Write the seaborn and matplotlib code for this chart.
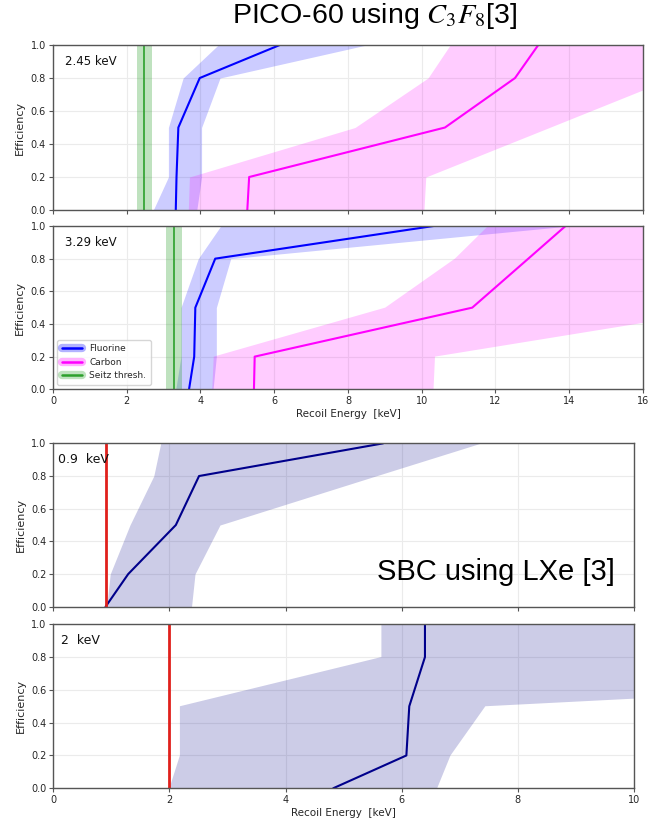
import numpy as np
import seaborn as sns
import matplotlib.pyplot as plt
from matplotlib.lines import Line2D

# efficiency levels shared by all curves
eff = [0.0, 0.2, 0.5, 0.8, 1.0]

# PICO-60, 2.45 keV
f245_mid = [3.33, 3.35, 3.40, 3.98, 6.15]
f245_lo = [2.72, 3.13, 3.13, 3.53, 4.48]
f245_hi = [3.90, 4.03, 4.03, 4.53, 8.50]
c245_mid = [5.27, 5.32, 10.63, 12.53, 13.16]
c245_lo = [3.67, 3.70, 8.19, 10.17, 10.77]
c245_hi = [10.06, 10.11, 13.46, 16.80, 19.00]
seitz245 = 2.47
seitz245_band = [2.29, 2.68]

# PICO-60, 3.29 keV
f329_mid = [3.69, 3.83, 3.86, 4.40, 10.32]
f329_lo = [3.33, 3.47, 3.47, 3.94, 4.55]
f329_hi = [4.34, 4.43, 4.43, 4.82, 14.00]
c329_mid = [5.45, 5.47, 11.37, 12.89, 13.90]
c329_lo = [4.32, 4.36, 9.01, 10.90, 11.80]
c329_hi = [10.32, 10.36, 18.55, 26.75, 32.20]
seitz329 = 3.29
seitz329_band = [3.06, 3.51]

# SBC LXe, 0.9 keV
x09_mid = [0.90, 1.29, 2.11, 2.51, 5.68]
x09_lo = [0.92, 0.98, 1.32, 1.73, 1.85]
x09_hi = [2.38, 2.44, 2.87, 5.55, 7.35]
thr09 = 0.9

# SBC LXe, 2 keV
x2_mid = [4.82, 6.08, 6.13, 6.40, 6.40]
x2_lo = [2.00, 2.18, 2.18, 5.65, 5.65]
x2_hi = [6.61, 6.84, 7.44, 24.0, 37.0]
thr2 = 2.0

eff_ticks = [0, 0.2, 0.4, 0.6, 0.8, 1.0]

sns.set_style("whitegrid", {"grid.color": "#ebebeb", "axes.edgecolor": "#555555"})
plt.rcParams["font.family"] = ["DejaVu Sans"]
plt.rcParams["mathtext.fontset"] = "stix"

fig = plt.figure(figsize=(6.5, 8.23), dpi=100)

BLUE, MAG, GREEN, NAVY, RED = "#0000ff", "#ff00ff", "#2ca02c", "#00008b", "#e0201c"


def style(ax, xmax, show_x):
    ax.set_xlim(0, xmax)
    ax.set_ylim(0, 1)
    ax.set_xticks(np.arange(0, xmax + 1, 2))
    ax.set_yticks(eff_ticks)
    ax.tick_params(labelsize=7, length=3, color="#555555", direction="out",
                   bottom=True, left=True, pad=2)
    ax.set_ylabel("Efficiency", fontsize=8)
    if show_x:
        ax.set_xlabel("Recoil Energy  [keV]", fontsize=7.5, labelpad=2)
    else:
        ax.set_xticklabels([])
        ax.set_xlabel("")
    for s in ax.spines.values():
        s.set_linewidth(1)


def pico(ax, f_mid, f_lo, f_hi, c_mid, c_lo, c_hi, seitz, band, label, legend):
    ax.fill_betweenx(eff, f_lo, f_hi, color=BLUE, alpha=0.2, lw=0)
    ax.fill_betweenx(eff, c_lo, c_hi, color=MAG, alpha=0.2, lw=0)
    ax.axvspan(band[0], band[1], color=GREEN, alpha=0.3, lw=0)
    ax.axvline(seitz, color=GREEN, lw=1.2)
    sns.lineplot(x=f_mid, y=eff, sort=False, estimator=None, color=BLUE, lw=1.5, ax=ax)
    sns.lineplot(x=c_mid, y=eff, sort=False, estimator=None, color=MAG, lw=1.5, ax=ax)
    ax.text(0.02, 0.9, label, transform=ax.transAxes, fontsize=8.5, va="center", color="#111111")
    if legend:
        hs = []
        for c in (BLUE, MAG, GREEN):
            hs.append((Line2D([], [], color=c, lw=6, alpha=0.3), Line2D([], [], color=c, lw=1.8)))
        ax.legend(hs, ["Fluorine", "Carbon", "Seitz thresh."], loc="lower left",
                  fontsize=6.5, frameon=True, handlelength=2.2, borderpad=0.5)


def sbc(ax, mid, lo, hi, thr, label):
    ax.fill_betweenx(eff, lo, hi, color=NAVY, alpha=0.2, lw=0)
    sns.lineplot(x=mid, y=eff, sort=False, estimator=None, color=NAVY, lw=1.5, ax=ax)
    ax.axvline(thr, color=RED, lw=2)
    ax.text(0.008 if thr < 1 else 0.014, 0.9, label, transform=ax.transAxes,
            fontsize=9, va="center", color="#111111")


ax1 = fig.add_axes([0.0815, 0.7448, 0.9077, 0.2005])
pico(ax1, f245_mid, f245_lo, f245_hi, c245_mid, c245_lo, c245_hi, seitz245, seitz245_band, "2.45 keV", False)
style(ax1, 16, False)

ax2 = fig.add_axes([0.0815, 0.527, 0.9077, 0.1984])
pico(ax2, f329_mid, f329_lo, f329_hi, c329_mid, c329_lo, c329_hi, seitz329, seitz329_band, "3.29 keV", True)
style(ax2, 16, True)

ax3 = fig.add_axes([0.082, 0.2628, 0.8934, 0.1985])
sbc(ax3, x09_mid, x09_lo, x09_hi, thr09, "0.9  keV")
style(ax3, 10, False)

ax4 = fig.add_axes([0.082, 0.0422, 0.8934, 0.1993])
sbc(ax4, x2_mid, x2_lo, x2_hi, thr2, "2  keV")
style(ax4, 10, True)

fig.text(0.577, 0.981, "PICO-60 using $C_3F_8$[3]", fontsize=20.5,
         family="Liberation Sans", ha="center", va="center", color="black")
fig.text(0.763, 0.305, "SBC using LXe [3]", fontsize=21,
         family="Liberation Sans", ha="center", va="center", color="black")

fig.savefig("out.png", dpi=100)
